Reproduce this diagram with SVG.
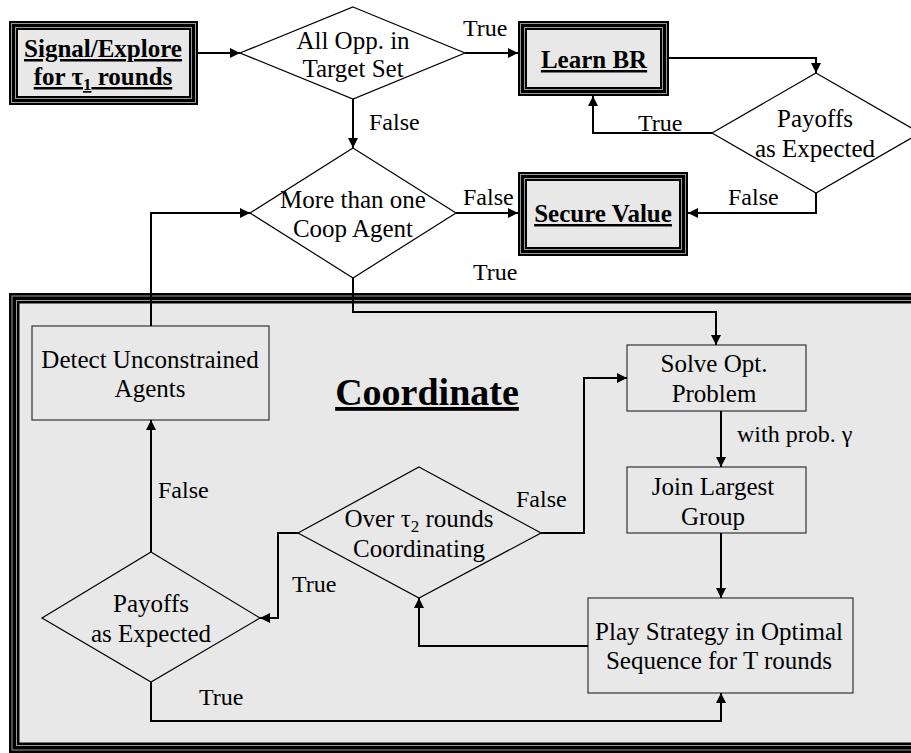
<svg xmlns="http://www.w3.org/2000/svg" width="911" height="753" viewBox="0 0 911 753">
<defs>
<style>
text{font-family:"Liberation Serif","Times New Roman",serif;fill:#000}
.n{font-size:25px;text-anchor:middle}
.b{font-size:25px;font-weight:bold;text-anchor:middle;text-decoration:underline}
.l{font-size:24px}
.h{font-size:38px;font-weight:bold;text-anchor:middle;text-decoration:underline}
.sub{font-size:17px}
.d{fill:none;stroke:#000;stroke-width:1.2}
.bx{fill:#e8e8e8;stroke:#333;stroke-width:1.2}
.g{fill:none;stroke:#9a9a9a;stroke-width:1}
.c{fill:none;stroke:#000;stroke-width:2;marker-end:url(#ah)}
.cn{fill:none;stroke:#000;stroke-width:2}
</style>
<marker id="ah" viewBox="0 0 10 10" refX="10" refY="5" markerWidth="5" markerHeight="5" orient="auto" markerUnits="strokeWidth">
<path d="M0,0 L10,5 L0,10 z" fill="#000"/>
</marker>
</defs>
<rect width="911" height="753" fill="#fff"/>

<g id="coordinate">
<rect x="9" y="293" width="920" height="460" fill="#000"/>
<rect x="12" y="296" width="914" height="454" class="g"/>
<rect x="16.5" y="300.5" width="905" height="445" class="g"/>
<rect x="19.5" y="303.5" width="899" height="439" fill="#e8e8e8"/>
<text class="h" x="427" y="405">Coordinate</text>
</g>

<g id="signal">
<rect x="9" y="21" width="189" height="84" fill="#000"/>
<rect x="11.5" y="23.5" width="184" height="79" class="g"/>
<rect x="15.5" y="27.5" width="176" height="71" class="g"/>
<rect x="18" y="30" width="171" height="66" fill="#e8e8e8"/>
<text class="b" x="103" y="57">Signal/Explore</text>
<text class="b" x="103" y="85">for τ<tspan class="sub" dy="5">1</tspan><tspan dy="-5"> rounds</tspan></text>
</g>

<g id="learnbr">
<rect x="518" y="21" width="151" height="75" fill="#000"/>
<rect x="520.5" y="23.5" width="146" height="70" class="g"/>
<rect x="524.5" y="27.5" width="138" height="62" class="g"/>
<rect x="527" y="30" width="133" height="57" fill="#e8e8e8"/>
<text class="b" x="594" y="68">Learn BR</text>
</g>

<g id="secure">
<rect x="518" y="172" width="170" height="84" fill="#000"/>
<rect x="520.5" y="174.5" width="165" height="79" class="g"/>
<rect x="524.5" y="178.5" width="157" height="71" class="g"/>
<rect x="527" y="181" width="152" height="66" fill="#e8e8e8"/>
<text class="b" x="603" y="222">Secure Value</text>
</g>

<g id="allopp">
<polygon class="d" points="353,7 465,53 353,99 240,53"/>
<text class="n" x="353" y="49">All Opp. in</text>
<text class="n" x="353" y="77">Target Set</text>
</g>

<g id="morethan">
<polygon class="d" points="353,148 456,213 353,278 250,213"/>
<text class="n" x="353" y="208">More than one</text>
<text class="n" x="353" y="237">Coop Agent</text>
</g>

<g id="payoffs1">
<polygon class="d" points="816,73 920,133 816,193 712,133"/>
<text class="n" x="815" y="127">Payoffs</text>
<text class="n" x="815" y="157">as Expected</text>
</g>

<g id="detect">
<rect class="bx" x="32" y="326" width="237" height="94"/>
<text class="n" x="150" y="368">Detect Unconstrained</text>
<text class="n" x="150" y="397">Agents</text>
</g>

<g id="solve">
<rect class="bx" x="627" y="345" width="179" height="66"/>
<text class="n" x="714" y="372">Solve Opt.</text>
<text class="n" x="714" y="402">Problem</text>
</g>

<g id="join">
<rect class="bx" x="627" y="467" width="179" height="66"/>
<text class="n" x="713" y="495">Join Largest</text>
<text class="n" x="713" y="525">Group</text>
</g>

<g id="play">
<rect class="bx" x="588" y="598" width="265" height="95"/>
<text class="n" x="719" y="640">Play Strategy in Optimal</text>
<text class="n" x="719" y="669">Sequence for T rounds</text>
</g>

<g id="over">
<polygon class="d" points="419,467 541,533 419,598 298,533"/>
<text class="n" x="419" y="527">Over τ<tspan class="sub" dy="5">2</tspan><tspan dy="-5"> rounds</tspan></text>
<text class="n" x="419" y="557">Coordinating</text>
</g>

<g id="payoffs2">
<polygon class="d" points="151,552 260,618 151,682 42,618"/>
<text class="n" x="151" y="612">Payoffs</text>
<text class="n" x="151" y="642">as Expected</text>
</g>

<g id="connectors">
<path class="c" d="M198,53 H240"/>
<path class="c" d="M465,53 H518"/>
<path class="c" d="M353,99 V148"/>
<path class="c" d="M669,58 H816 V73"/>
<path class="c" d="M712,133 H593 V96"/>
<path class="c" d="M816,193 V213 H688"/>
<path class="c" d="M456,213 H518"/>
<path class="c" d="M353,278 V312 H716 V345"/>
<path class="c" d="M151,326 V213 H250"/>
<path class="c" d="M721,411 V467"/>
<path class="c" d="M721,533 V598"/>
<path class="c" d="M588,646 H419 V598"/>
<path class="c" d="M541,533 H584 V378 H627"/>
<path class="c" d="M298,533 H278 V618 H260"/>
<path class="c" d="M151,552 V420"/>
<path class="c" d="M151,682 V721 H721 V693"/>
</g>

<g id="labels">
<text class="l" x="463" y="36">True</text>
<text class="l" x="369" y="130">False</text>
<text class="l" x="638" y="131">True</text>
<text class="l" x="728" y="205">False</text>
<text class="l" x="463" y="205">False</text>
<text class="l" x="473" y="280">True</text>
<text class="l" x="737" y="442">with prob. γ</text>
<text class="l" x="516" y="507">False</text>
<text class="l" x="158" y="498">False</text>
<text class="l" x="292" y="592">True</text>
<text class="l" x="199" y="705">True</text>
</g>
</svg>
